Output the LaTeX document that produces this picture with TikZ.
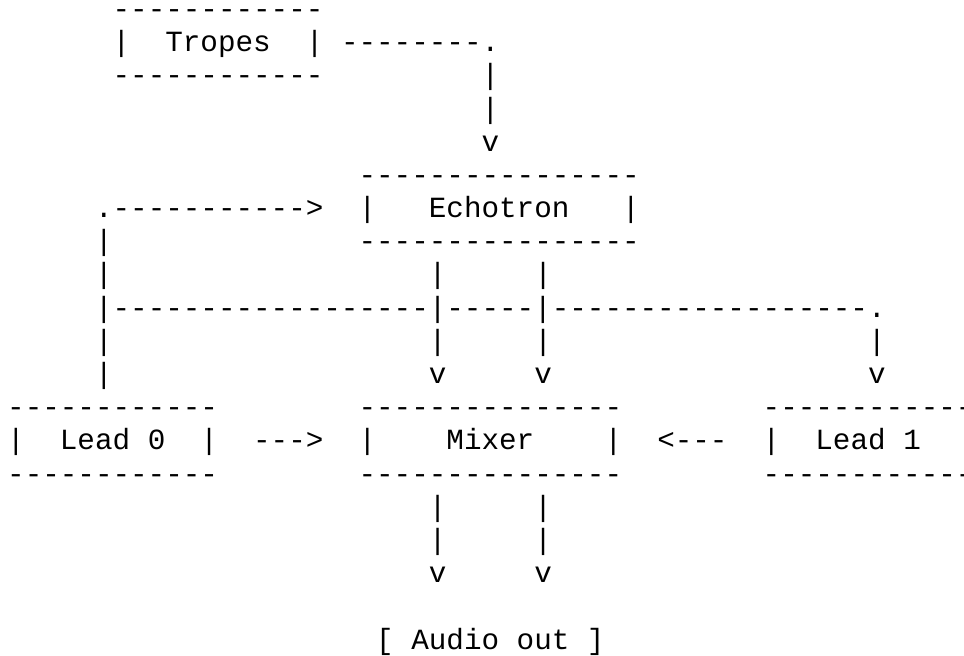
\documentclass[tikz,border=0pt]{standalone}
\usepackage{fontspec}
\setmonofont{Liberation Mono}
\usepackage{tikz}

\tikzset{
  ascii/.style={font=\ttfamily\fontsize{14.64pt}{16.6pt}\selectfont,
    anchor=base west, inner sep=0pt, outer sep=0pt, text=black},
  dashrow/.style={ascii, text height=0.5em, text depth=0pt},
}

\begin{document}
\begin{tikzpicture}[x=8.785pt, y=-16.595pt]
  \useasboundingbox (-0.41,-0.557) rectangle (54.457,19.208);
  \clip (-0.41,-0.557) rectangle (54.457,19.208);

  % Tropes box
  \node[dashrow] (tropesTop) at (6,0)  {------------};
  \node[ascii] (tropesL)   at (6,1)  {|};
  \node[ascii] (tropes)    at (9,1)  {Tropes};
  \node[ascii] (tropesR)   at (17,1) {|};
  \node[dashrow] (tropesBot) at (6,2)  {------------};

  % Tropes to Echotron
  \node[ascii] (tropesOut) at (19,1) {--------.};
  \node[ascii] (tropesDn1) at (27,2) {|};
  \node[ascii] (tropesDn2) at (27,3) {|};
  \node[ascii] (tropesArr) at (27,4) {v};

  % Echotron box
  \node[dashrow] (echoTop)  at (20,5)  {----------------};
  \node[ascii] (echoL)    at (20,6)  {|};
  \node[ascii] (echotron) at (24,6)  {Echotron};
  \node[ascii] (echoR)    at (35,6)  {|};
  \node[dashrow] (echoBot)  at (20,7)  {----------------};

  % Feedback loop into Echotron
  \node[ascii] (loopIn)   at (5,6)   {.----------->};
  \node[ascii] (loopL7)   at (5,7)   {|};
  \node[ascii] (loopL8)   at (5,8)   {|};
  \node[ascii] (loopL10)  at (5,10)  {|};
  \node[ascii] (loopL11)  at (5,11)  {|};

  % Echotron outputs
  \node[ascii] (echoA8)   at (24,8)  {|};
  \node[ascii] (echoB8)   at (30,8)  {|};
  \node[ascii] (bus)      at (5,9)   {|------------------|-----|------------------.};
  \node[ascii] (echoA10)  at (24,10) {|};
  \node[ascii] (echoB10)  at (30,10) {|};
  \node[ascii] (leadBDn)  at (49,10) {|};
  \node[ascii] (echoAArr) at (24,11) {v};
  \node[ascii] (echoBArr) at (30,11) {v};
  \node[ascii] (leadBArr) at (49,11) {v};

  % Lead 0 box
  \node[dashrow] (leadATop) at (0,12)  {------------};
  \node[ascii] (leadAL)   at (0,13)  {|};
  \node[ascii] (leadA)    at (3,13)  {Lead 0};
  \node[ascii] (leadAR)   at (11,13) {|};
  \node[dashrow] (leadABot) at (0,14)  {------------};
  \node[ascii] (leadAOut) at (14,13) {--->};

  % Mixer box
  \node[dashrow] (mixTop)   at (20,12) {---------------};
  \node[ascii] (mixL)     at (20,13) {|};
  \node[ascii] (mixer)    at (25,13) {Mixer};
  \node[ascii] (mixR)     at (34,13) {|};
  \node[dashrow] (mixBot)   at (20,14) {---------------};

  % Lead 1 box
  \node[ascii] (leadBOut) at (37,13) {<---};
  \node[dashrow] (leadBTop) at (43,12) {------------};
  \node[ascii] (leadBL)   at (43,13) {|};
  \node[ascii] (leadB)    at (46,13) {Lead 1};
  \node[dashrow] (leadBBot) at (43,14) {------------};

  % Mixer outputs
  \node[ascii] (outA15)   at (24,15) {|};
  \node[ascii] (outB15)   at (30,15) {|};
  \node[ascii] (outA16)   at (24,16) {|};
  \node[ascii] (outB16)   at (30,16) {|};
  \node[ascii] (outAArr)  at (24,17) {v};
  \node[ascii] (outBArr)  at (30,17) {v};
  \node[ascii] (audio)    at (21,19) {[ Audio out ]};
\end{tikzpicture}
\end{document}
